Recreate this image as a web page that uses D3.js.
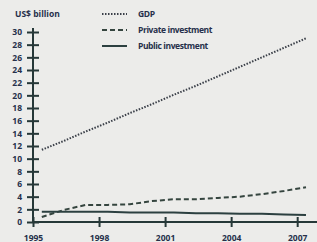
<!DOCTYPE html>
<html>
<head>
<meta charset="utf-8">
<script src="https://cdn.jsdelivr.net/npm/d3@7"></script>
<style>
  body { margin: 0; background: #ececea; }
  svg { display: block; }
  text { font-family: "Open Sans", sans-serif; font-weight: 700; fill: #26304a; }
</style>
</head>
<body>
<div id="chart"></div>
<script>
// values, in US$ billion
var years = [1995, 1996, 1997, 1998, 1999, 2000, 2001, 2002, 2003, 2004, 2005, 2006, 2007];
var gdp = [11.4, 12.8, 14.3, 15.7, 17.2, 18.6, 20.1, 21.5, 23.0, 24.5, 26.0, 27.5, 29.0];
var privateInv = [0.8, 1.9, 2.7, 2.7, 2.8, 3.3, 3.6, 3.6, 3.8, 4.0, 4.4, 4.9, 5.5];
var publicInv = [1.6, 1.6, 1.6, 1.6, 1.5, 1.5, 1.5, 1.4, 1.4, 1.3, 1.3, 1.2, 1.1];
var xTicks = [1995, 1998, 2001, 2004, 2007];
var yTicks = [0, 2, 4, 6, 8, 10, 12, 14, 16, 18, 20, 22, 24, 26, 28, 30];
var seriesNames = ["GDP", "Private investment", "Public investment"];

var width = 317, height = 242;
var svg = d3.select("#chart").append("svg")
    .attr("width", width)
    .attr("height", height);

var x = d3.scaleLinear().domain([1995, 2007.9]).range([33, 317]);
var y = d3.scaleLinear().domain([0, 30]).range([222, 32]);

// data sits a little after the year tick
var px = function(i) { return x(years[i] + 0.4); };

var axisColor = "#263838";

// y axis
var yAxis = svg.append("g")
    .attr("transform", "translate(33,0)")
    .call(d3.axisLeft(y).tickValues(yTicks).tickSize(6).tickPadding(5));
yAxis.select(".domain").attr("stroke", axisColor).attr("stroke-width", 2)
    .attr("d", "M0," + (y(30) - 4) + "V" + y(0));
yAxis.selectAll(".tick line").attr("stroke", axisColor).attr("stroke-width", 2)
    .attr("x1", 6).attr("x2", -6);
yAxis.selectAll(".tick text").attr("font-size", 8.5).attr("font-family", null).attr("fill", null);

// x axis
var xAxis = svg.append("g")
    .attr("transform", "translate(0," + y(0) + ")")
    .call(d3.axisBottom(x).tickValues(xTicks).tickFormat(d3.format("d")).tickSize(5).tickPadding(8));
xAxis.select(".domain").attr("stroke", axisColor).attr("stroke-width", 2)
    .attr("d", "M" + x(1995) + ",0H" + width);
xAxis.selectAll(".tick line").attr("stroke", axisColor).attr("stroke-width", 2)
    .attr("y1", -5).attr("y2", 5);
xAxis.selectAll(".tick text").attr("font-size", 8.5).attr("font-family", null).attr("fill", null);

svg.append("text")
    .attr("x", 15).attr("y", 17)
    .attr("font-size", 8.5)
    .text("US$ billion");

var line = d3.line()
    .x(function(d, i) { return px(i); })
    .y(function(d) { return y(d); });

var styles = [
    { data: gdp, dash: "1.5,1.5", color: "#3a3f48", w: 2 },
    { data: privateInv, dash: "5,3", color: "#35453f", w: 2 },
    { data: publicInv, dash: null, color: "#2c4040", w: 2 }
];

styles.forEach(function(s) {
    svg.append("path")
        .datum(s.data)
        .attr("fill", "none")
        .attr("stroke", s.color)
        .attr("stroke-width", s.w)
        .attr("stroke-dasharray", s.dash)
        .attr("d", line);
});

// legend
var legend = svg.append("g");
seriesNames.forEach(function(name, i) {
    var ly = 14 + i * 16;
    legend.append("line")
        .attr("x1", 102).attr("x2", 127)
        .attr("y1", ly).attr("y2", ly)
        .attr("stroke", styles[i].color)
        .attr("stroke-width", 2)
        .attr("stroke-dasharray", styles[i].dash);
    legend.append("text")
        .attr("x", 138).attr("y", ly + 3)
        .attr("font-size", 8.5)
        .attr("letter-spacing", -0.4)
        .text(name);
});
</script>
</body>
</html>
